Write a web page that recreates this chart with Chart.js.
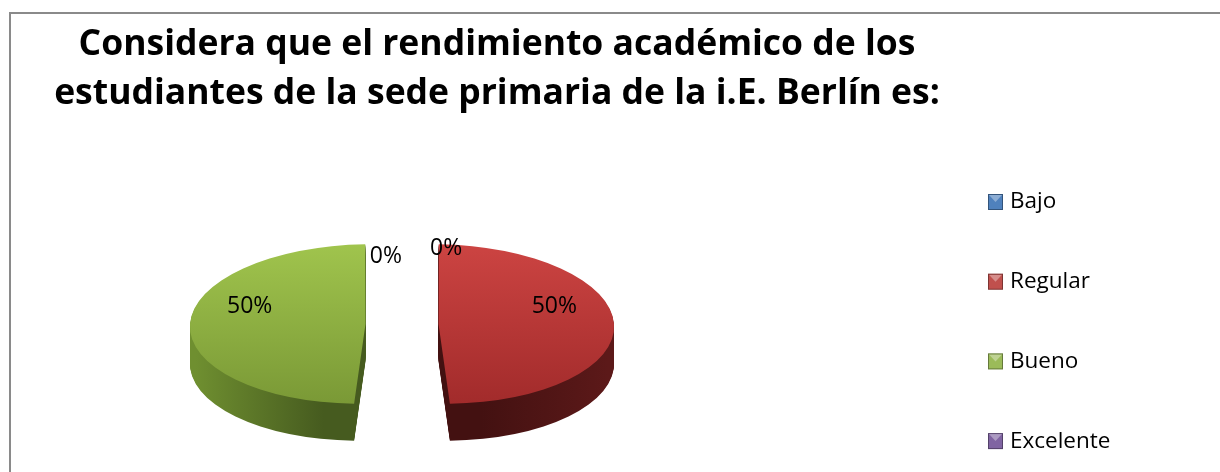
<!DOCTYPE html>
<html lang="es">
<head>
<meta charset="UTF-8">
<title>Rendimiento académico - sede primaria</title>
<style>
    html, body { margin: 0; padding: 0; background: #fff; }
    #pie_canvas { display: block; }
</style>
</head>
<body>
<canvas id="pie_canvas" width="1220" height="472"></canvas>
<!--suppress JSUnresolvedLibraryURL -->
<script src="https://cdn.jsdelivr.net/npm/chart.js@4.4.0/dist/chart.umd.min.js"></script>
<script>
    const TITLE_LINES = ['Considera que el rendimiento académico de los',
                         'estudiantes de la sede primaria de la i.E. Berlín es:'];
    const LABELS = ['Bajo', 'Regular', 'Bueno', 'Excelente'];
    const VALUES = [0, 50, 50, 0];

    const COLORS = ['#4f81bd', '#c0504d', '#9bbb59', '#8064a2'];
    const TOP_LIGHT = ['#5b8fd0', '#cc4442', '#a0c44d', '#8e71b2'];
    const TOP_DARK = ['#3e6ea8', '#a22b2b', '#7a9936', '#69508f'];
    const SIDE_LIGHT = ['#2e5484', '#5c1919', '#6f8f30', '#573f79'];
    const SIDE_DARK = ['#1e395c', '#431111', '#465b1f', '#3b2954'];

    // 3d look: where the pie sits on screen, how flat it is, how thick,
    // and how much each exploded slice leans (perspective)
    const view = {cx: 402, cy: 324, tilt: 0.455, depth: 37, lean: 0.07};
    const EXPLODE = 146;   // chart.js offset (arc moves about offset/4)
    const RADIUS = 139;

    function sliceDir(arc) {
        const mid = (arc.startAngle + arc.endAngle) / 2;
        return Math.cos(mid) < 0 ? -1 : 1;
    }

    function project(ctx, arc, dy) {
        ctx.translate(view.cx, view.cy + dy);
        ctx.transform(1, 0, view.lean * sliceDir(arc), 1, 0, 0);
        ctx.scale(1, view.tilt);
        ctx.translate(-arc.x, -arc.y);
    }

    function withOptions(arc, extra, fn) {
        const saved = arc.options;
        arc.options = Object.assign({}, saved, extra);
        fn();
        arc.options = saved;
    }

    const framePlugin = {
        id: 'frame',
        beforeDraw(chart) {
            const ctx = chart.ctx;
            ctx.save();
            ctx.strokeStyle = '#8a8a8a';
            ctx.lineWidth = 2;
            ctx.strokeRect(10, 13, 1400, 700);
            ctx.restore();
        }
    };

    const pie3dPlugin = {
        id: 'pie3d',
        beforeDatasetsDraw(chart) {
            const ctx = chart.ctx;
            const arcs = chart.getDatasetMeta(0).data;
            const c = arcs[0];
            const shift = EXPLODE / 4;
            const R = c.outerRadius + shift;

            // side walls, drawn layer by layer from the bottom up
            const sides = arcs.map((arc, i) => {
                const dir = sliceDir(arc);
                const g = ctx.createLinearGradient(c.x + dir * shift, 0, c.x + dir * (shift + R), 0);
                g.addColorStop(0, SIDE_DARK[i]);
                g.addColorStop(0.75, SIDE_LIGHT[i]);
                g.addColorStop(1, SIDE_LIGHT[i]);
                return g;
            });
            for (let d = view.depth; d > 0; d--) {
                arcs.forEach((arc, i) => {
                    ctx.save();
                    project(ctx, arc, d);
                    withOptions(arc, {backgroundColor: sides[i], borderWidth: 0}, () => arc.draw(ctx));
                    ctx.restore();
                });
            }

            // top faces with a vertical gradient
            arcs.forEach((arc, i) => {
                const g = ctx.createLinearGradient(0, c.y - R, 0, c.y + R);
                g.addColorStop(0, TOP_LIGHT[i]);
                g.addColorStop(1, TOP_DARK[i]);
                ctx.save();
                project(ctx, arc, 0);
                withOptions(arc, {backgroundColor: g, borderWidth: 0}, () => arc.draw(ctx));
                ctx.restore();
            });
            // default flat drawing is replaced by the above
            return false;
        },
        afterDraw(chart) {
            const ctx = chart.ctx;
            const arcs = chart.getDatasetMeta(0).data;

            // percentage labels
            const c = arcs[0];
            const shift = EXPLODE / 4;
            const R = c.outerRadius + shift;
            const total = VALUES.reduce((a, b) => a + b, 0);
            ctx.save();
            ctx.font = '23px "Open Sans"';
            ctx.fillStyle = '#000';
            ctx.textBaseline = 'middle';
            arcs.forEach((arc, i) => {
                const pct = Math.round(VALUES[i] / total * 100) + '%';
                let x, y;
                if (arc.circumference > 0) {
                    const mid = (arc.startAngle + arc.endAngle) / 2;
                    const dist = shift + R * 0.66;
                    x = view.cx + Math.cos(mid) * dist;
                    y = view.cy + Math.sin(mid) * dist * view.tilt - 18;
                    ctx.textAlign = 'center';
                } else {
                    // empty slices sit at the top edge, either side of the gap
                    const side = arc.startAngle < 0 ? 1 : -1;
                    x = view.cx + (side > 0 ? 28 : 0);
                    y = view.cy - 76 + (side > 0 ? 0 : 8);
                    ctx.textAlign = side > 0 ? 'left' : 'right';
                }
                ctx.fillText(pct, x, y);
            });

            // legend with bevelled boxes
            ctx.font = '22.5px "Open Sans"';
            ctx.textAlign = 'left';
            LABELS.forEach((label, i) => {
                const y = 202 + i * 79.7;
                const x = 988;
                ctx.fillStyle = COLORS[i];
                ctx.fillRect(x, y - 8, 15, 16);
                ctx.fillStyle = 'rgba(255,255,255,0.35)';
                ctx.beginPath();
                ctx.moveTo(x + 1, y - 7);
                ctx.lineTo(x + 14, y - 7);
                ctx.lineTo(x + 7.5, y);
                ctx.closePath();
                ctx.fill();
                ctx.strokeStyle = 'rgba(0,0,0,0.35)';
                ctx.lineWidth = 1;
                ctx.strokeRect(x + 0.5, y - 7.5, 14, 15);
                ctx.fillStyle = '#000';
                ctx.fillText(label, 1010, y);
            });
            ctx.restore();
        }
    };

    const config = {
        type: 'pie',
        data: {
            labels: LABELS,
            datasets: [{
                data: VALUES,
                backgroundColor: COLORS,
                borderWidth: 0,
                offset: EXPLODE,
                radius: RADIUS,
                clip: false
            }]
        },
        options: {
            responsive: false,
            animation: false,
            layout: {
                padding: {left: 0, right: 226}
            },
            plugins: {
                legend: {display: false},
                tooltip: {enabled: false},
                title: {
                    display: true,
                    text: TITLE_LINES,
                    color: '#000',
                    font: {family: 'Open Sans', size: 35.5, weight: 'bold', lineHeight: 49 / 35.5},
                    padding: {top: 20, bottom: 10}
                }
            }
        },
        plugins: [framePlugin, pie3dPlugin]
    };

    const context = document.getElementById('pie_canvas').getContext('2d');
    const pieChart = new Chart(context, config);
</script>
</body>
</html>
